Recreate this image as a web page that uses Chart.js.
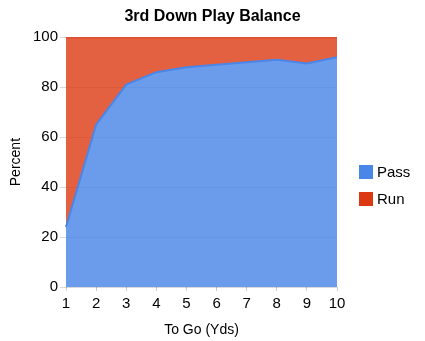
<!DOCTYPE html>
<html>
<head>
<meta charset="utf-8">
<script src="https://cdn.jsdelivr.net/npm/chart.js@4"></script>
<style>
  html, body { margin: 0; padding: 0; background: #fff; }
  #wrap { width: 425px; height: 341px; }
</style>
</head>
<body>
<div id="wrap"><canvas id="playChart" width="425" height="341"></canvas></div>
<script>
// yards to go on 3rd down
const yardsToGo = ['1', '2', '3', '4', '5', '6', '7', '8', '9', '10'];
// share of plays (percent)
const passPct = [24, 65, 81, 86, 88, 89, 90, 91, 89.5, 92];
const runPct = [76, 35, 19, 14, 12, 11, 10, 9, 10.5, 8];
const yTicks = [0, 20, 40, 60, 80, 100];

const FONT = 'Arial, "Liberation Sans", sans-serif';

// legend drawn to the right of the plot, one row per dataset
const sideLegend = {
    id: 'sideLegend',
    afterDraw(chart) {
        const ctx = chart.ctx;
        ctx.save();
        ctx.font = '15px ' + FONT;
        ctx.textBaseline = 'middle';
        chart.data.datasets.forEach((ds, i) => {
            const y = 165 + i * 27;
            ctx.fillStyle = ds.legendColor;
            ctx.fillRect(359, y, 14, 14);
            ctx.fillStyle = '#000';
            ctx.fillText(ds.label, 377, y + 7.5);
        });
        ctx.restore();
    }
};

const ctx = document.getElementById('playChart').getContext('2d');
new Chart(ctx, {
    type: 'line',
    data: {
        labels: yardsToGo,
        datasets: [{
            label: 'Pass',
            data: passPct,
            borderColor: '#4a86e8',
            backgroundColor: 'rgba(74, 134, 232, 0.82)',
            legendColor: '#4a86e8',
            borderWidth: 2,
            pointRadius: 0,
            tension: 0,
            fill: 'origin'
        }, {
            label: 'Run',
            data: runPct,
            borderColor: '#dc3912',
            backgroundColor: 'rgba(220, 57, 18, 0.8)',
            legendColor: '#dc3912',
            borderWidth: 2,
            pointRadius: 0,
            tension: 0,
            fill: '-1'
        }]
    },
    options: {
        responsive: false,
        animation: false,
        layout: { padding: 0 },
        scales: {
            x: {
                offset: false,
                border: { display: false },
                grid: { drawOnChartArea: false, drawTicks: true, tickLength: 4, color: '#ccc' },
                ticks: { color: '#000', font: { family: FONT, size: 15 }, padding: 4, maxRotation: 0 },
                title: { display: true, text: 'To Go (Yds)', color: '#000', font: { family: FONT, size: 14 }, padding: { top: 6, bottom: 2 } },
                afterFit(scale) { scale.height = 54; }
            },
            y: {
                stacked: true,
                min: 0,
                max: 100,
                border: { display: false },
                grid: { color: 'rgba(0, 0, 0, 0.15)', tickLength: 6, drawTicks: true },
                ticks: {
                    color: '#000',
                    font: { family: FONT, size: 15 },
                    padding: 2,
                    stepSize: 20,
                    callback: (v) => yTicks.includes(v) ? v : ''
                },
                title: { display: true, text: 'Percent', color: '#000', font: { family: FONT, size: 14 }, padding: { top: 8, bottom: 0 } },
                afterFit(scale) { scale.width = 66; }
            },
            // empty right-hand strip that holds the legend
            side: {
                position: 'right',
                display: true,
                border: { display: false },
                grid: { display: false },
                ticks: { display: false },
                afterFit(scale) { scale.width = 88; }
            }
        },
        plugins: {
            legend: { display: false },
            tooltip: { enabled: false },
            title: {
                display: true,
                text: '3rd Down Play Balance',
                color: '#000',
                font: { family: FONT, size: 16, weight: 'bold' },
                padding: { top: 7, bottom: 11 }
            }
        }
    },
    plugins: [sideLegend]
});
</script>
</body>
</html>
